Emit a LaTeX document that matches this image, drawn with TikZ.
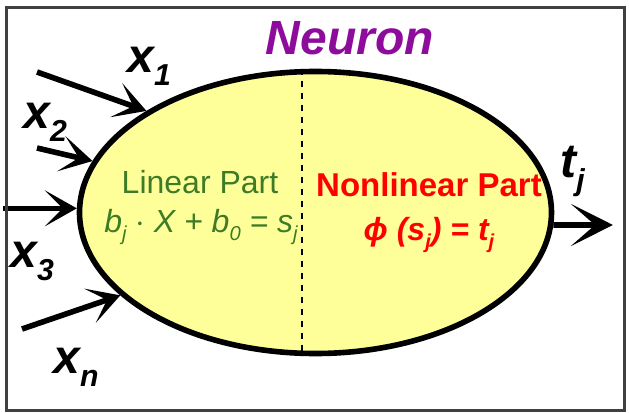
\documentclass[tikz,border=0pt]{standalone}
\usepackage{fontspec}
\setmainfont{Liberation Sans}
\usetikzlibrary{arrows.meta,shapes.geometric,calc}
\definecolor{nBody}{HTML}{FFFF99}
\definecolor{nLin}{HTML}{3E7B27}
\definecolor{nNon}{HTML}{FF0000}
\definecolor{nTitle}{HTML}{8E0C9C}
\definecolor{nFrame}{HTML}{404040}
\tikzset{
  body/.style={ellipse, draw, line width=2.8pt, fill=nBody, inner sep=0pt,
               minimum width=236pt, minimum height=141pt},
  inarr/.style={line width=2.8pt, -{Stealth[length=16pt, width=18pt, inset=9pt]}},
  outarr/.style={line width=2.8pt, -{Stealth[length=21pt, width=21pt, inset=12pt]}},
  sig/.style={font=\fontsize{24}{24}\selectfont\bfseries\itshape,
              inner sep=0pt, anchor=base west},
  part/.style={font=\fontsize{16}{18}\selectfont, inner sep=0pt},
  divider/.style={dashed, line width=0.9pt},
}
% subscript that scales with the font in force
\newcommand{\sbs}[1]{\raisebox{-0.28em}{\scalebox{0.63}{#1}}}

\begin{document}
\begin{tikzpicture}[x=0.5pt, y=-0.5pt]
\useasboundingbox (0,0) rectangle (629,413);

%% ── the neuron body ───────────────────────────────────────────────────────
\node[body] (neuron) at (315.5,212.5) {};
\draw[divider] ($(neuron.north)+(-13.5,0)$) -- ($(neuron.south)+(-13.5,0)$);

\node[font=\fontsize{24}{24}\selectfont\bfseries\itshape, text=nTitle,
      inner sep=0pt] (title) at (350,38) {Neuron};

\node[part, text=nLin] (lin) at (200,182.5) {Linear Part};
\node[part, text=nLin, font=\fontsize{16}{18}\selectfont\itshape, anchor=base]
  (linf) at (201,232) {b\sbs{j} $\cdot$ X + b\sbs{0} = s\sbs{j}};
\node[part, text=nNon, font=\fontsize{16.5}{18}\selectfont\bfseries]
  (non) at (429,185) {Nonlinear Part};
\node[part, text=nNon, font=\fontsize{16}{18}\selectfont\bfseries\itshape, anchor=base]
  (nonf) at (429,240) {ϕ (s\sbs{j}) = t\sbs{j}};

%% ── inputs and output ─────────────────────────────────────────────────────
\coordinate (in1) at (37,72);
\coordinate (in2) at (37,148);
\coordinate (in3) at (3,0);
\coordinate (inn) at (22,329);
\coordinate (out) at (613,225);

\draw[inarr] (in1) -- (neuron.149);
\draw[inarr] (in2) -- (neuron.167.5);
\draw[inarr] (neuron.179 -| in3) -- (neuron.179);
\draw[inarr] (inn) -- (neuron.203.6);
\draw[outarr] (neuron.357) -- (out);

\node[sig] (x1) at (127,72)  {x\sbs{1}};
\node[sig] (x2) at (23,128)  {x\sbs{2}};
\node[sig] (x3) at (10,267)  {x\sbs{3}};
\node[sig] (xn) at (53,373)  {x\sbs{n}};
\node[sig] (tj) at (560,177) {t\sbs{j}};

%% ── frame ─────────────────────────────────────────────────────────────────
\draw[nFrame, line width=1.5pt] (6.5,7) rectangle (625,410);

\end{tikzpicture}
\end{document}
